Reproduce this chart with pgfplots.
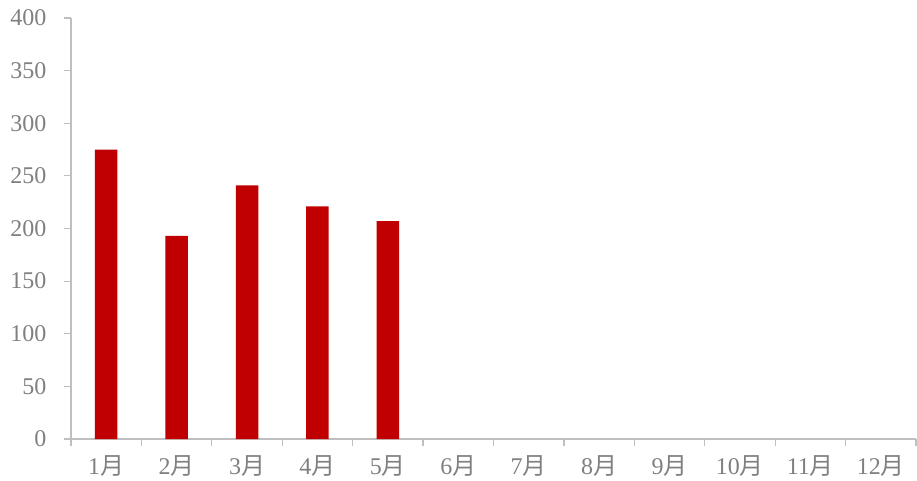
\documentclass[border=0pt]{standalone}
\usepackage{fontspec}
\setmainfont{Liberation Serif}
\newfontfamily\cjk{Noto Sans CJK SC}
\usepackage{pgfplots}
\pgfplotsset{compat=1.18}
\definecolor{barred}{HTML}{C00000}
\definecolor{axgray}{HTML}{BFBFBF}
\definecolor{txtgray}{HTML}{808080}
\begin{document}
\begin{tikzpicture}
\path[use as bounding box] (-71pt,-42pt) rectangle (846pt,439pt);
\begin{axis}[
  at={(0pt,0pt)}, anchor=south west,
  scale only axis, width=845pt, height=421pt,
  xmin=0.5, xmax=12.5, ymin=0, ymax=400,
  ytick={0,50,...,400},
  xtick={1,...,12},
  xticklabels={1{\cjk 月},2{\cjk 月},3{\cjk 月},4{\cjk 月},5{\cjk 月},6{\cjk 月},7{\cjk 月},8{\cjk 月},9{\cjk 月},10{\cjk 月},11{\cjk 月},12{\cjk 月}},
  minor xtick={0.5,1.5,...,12.5},
  axis x line*=bottom, axis y line*=left,
  axis line style={axgray, line width=1.3pt},
  tick align=outside,
  major tick length=7pt, minor tick length=7pt,
  tick style={axgray, line width=1.2pt},
  major x tick style={draw=none},
  /pgf/number format/assume math mode=true,
  ticklabel style={font=\fontsize{24}{28}\selectfont, text=txtgray},
  yticklabel style={xshift=-14pt},
  xticklabel style={yshift=-6pt},
]
\addplot[ybar, fill=barred, draw=none, bar width=22.5pt] coordinates {(1,275) (2,193) (3,241) (4,221) (5,207)};
\end{axis}
\end{tikzpicture}
\end{document}
